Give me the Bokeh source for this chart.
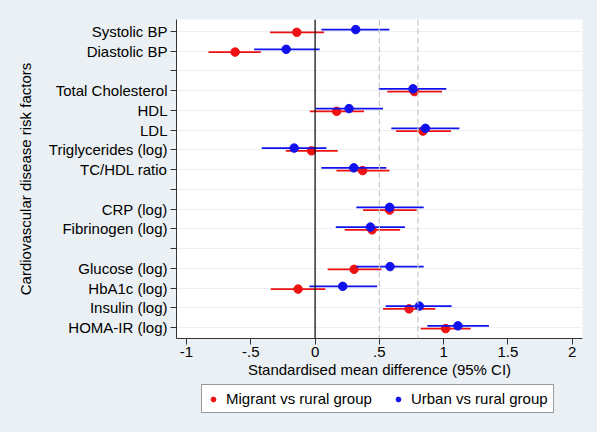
from bokeh.plotting import figure
from bokeh.layouts import column
from bokeh.models import FixedTicker, Span, Legend, LegendItem, ColumnDataSource
from bokeh.embed import file_html
from bokeh.resources import INLINE

labels = ["Systolic BP", "Diastolic BP", "", "Total Cholesterol", "HDL", "LDL",
          "Triglycerides (log)", "TC/HDL ratio", "", "CRP (log)", "Fibrinogen (log)", "",
          "Glucose (log)", "HbA1c (log)", "Insulin (log)", "HOMA-IR (log)"]

# Migrant vs rural group (None for blank rows)
mig_est = [-0.142, -0.622, None, 0.772, 0.168, 0.839, -0.028, 0.370, None, 0.580, 0.443, None, 0.303, -0.132, 0.731, 1.016]
mig_lo  = [-0.350, -0.829, None, 0.562, -0.041, 0.630, -0.228, 0.166, None, 0.373, 0.231, None, 0.098, -0.345, 0.528, 0.821]
mig_hi  = [0.070, -0.422, None, 0.987, 0.381, 1.057, 0.176, 0.578, None, 0.790, 0.661, None, 0.516, 0.080, 0.935, 1.210]

# Urban vs rural group
urb_est = [0.316, -0.225, None, 0.762, 0.264, 0.858, -0.163, 0.301, None, 0.580, 0.430, None, 0.583, 0.215, 0.811, 1.111]
urb_lo  = [0.049, -0.474, None, 0.495, 0.005, 0.593, -0.415, 0.049, None, 0.321, 0.161, None, 0.321, -0.044, 0.549, 0.873]
urb_hi  = [0.578, 0.036, None, 1.021, 0.528, 1.122, 0.088, 0.554, None, 0.845, 0.699, None, 0.845, 0.482, 1.062, 1.352]

series_names = ["Migrant vs rural group", "Urban vs rural group"]

x_ticks = [-1, -0.5, 0, 0.5, 1, 1.5, 2]
x_tick_labels = ["-1", "-.5", "0", ".5", "1", "1.5", "2"]

FONT = "Liberation Sans"
BG = "#EAF0F3"
FS = "15px"
RED = "#EE1111"
BLUE = "#1111EE"

p = figure(frame_width=406, frame_height=319, output_backend="svg", toolbar_location=None,
           x_range=(-1.078, 2.08), y_range=(16.55, 0.4),
           min_border_left=176, min_border_right=15, min_border_top=19, min_border_bottom=44)
p.background_fill_color = "white"
p.border_fill_color = BG
p.outline_line_color = None

# y axis
p.yaxis.ticker = FixedTicker(ticks=list(range(1, len(labels) + 1)))
p.yaxis.major_label_overrides = {i + 1: lab for i, lab in enumerate(labels)}
p.yaxis.axis_label = "Cardiovascular disease risk factors"
p.yaxis.axis_label_text_font = FONT
p.yaxis.axis_label_text_font_style = "normal"
p.yaxis.axis_label_text_font_size = FS
p.yaxis.axis_label_standoff = 12
p.yaxis.major_label_text_font = FONT
p.yaxis.major_label_text_font_size = FS
p.yaxis.major_tick_out = 6
p.yaxis.major_tick_in = 0
p.yaxis.minor_tick_line_color = None
p.yaxis.major_label_standoff = 3

# x axis
p.xaxis.ticker = FixedTicker(ticks=x_ticks)
p.xaxis.major_label_overrides = {t: l for t, l in zip(x_ticks, x_tick_labels)}
p.xaxis.axis_label = "Standardised mean difference (95% CI)"
p.xaxis.axis_label_text_font = FONT
p.xaxis.axis_label_text_font_style = "normal"
p.xaxis.axis_label_text_font_size = FS
p.xaxis.axis_label_standoff = 1
p.xaxis.major_label_text_font = FONT
p.xaxis.major_label_text_font_size = FS
p.xaxis.major_tick_out = 6
p.xaxis.major_tick_in = 0
p.xaxis.minor_tick_line_color = None
p.xaxis.major_label_standoff = 2

for ax in (p.xaxis, p.yaxis):
    ax.axis_line_color = "#333333"
    ax.major_tick_line_color = "#333333"
    ax.major_label_text_color = "black"
    ax.axis_label_text_color = "black"

p.xgrid.visible = False
p.ygrid.grid_line_color = BG
p.ygrid.grid_line_width = 1

# reference lines
p.add_layout(Span(location=0, dimension="height", line_color="black", line_width=1.2))
for v in (0.5, 0.8):
    p.add_layout(Span(location=v, dimension="height", line_color="#C8C8C8",
                      line_width=1.2, line_dash="6 3"))

def rows(est, lo, hi, off):
    ys, es, ls, hs = [], [], [], []
    for i, (e, l, h) in enumerate(zip(est, lo, hi)):
        if e is None:
            continue
        ys.append(i + 1 + off); es.append(e); ls.append(l); hs.append(h)
    return ColumnDataSource(dict(y=ys, est=es, lo=ls, hi=hs))

src_m = rows(mig_est, mig_lo, mig_hi, 0.05)
src_u = rows(urb_est, urb_lo, urb_hi, -0.09)

p.segment(x0="lo", x1="hi", y0="y", y1="y", source=src_m, line_color=RED, line_width=1.8)
p.scatter(x="est", y="y", source=src_m, size=8.5, fill_color=RED, line_color=RED)
p.segment(x0="lo", x1="hi", y0="y", y1="y", source=src_u, line_color=BLUE, line_width=1.8)
p.scatter(x="est", y="y", source=src_u, size=8.5, fill_color=BLUE, line_color=BLUE)

# legend strip below the chart (frame aligned with the chart's frame)
p2 = figure(width=597, height=50, output_backend="svg", toolbar_location=None,
            x_axis_type=None, y_axis_type=None, x_range=(0, 1), y_range=(0, 1),
            min_border=0)
p2.background_fill_color = BG
p2.border_fill_color = BG
p2.outline_line_color = None
p2.grid.visible = False
dm = p2.scatter(x=[-5], y=[-5], size=7, fill_color=RED, line_color=RED)
du = p2.scatter(x=[-5], y=[-5], size=7, fill_color=BLUE, line_color=BLUE)

legend = Legend(items=[LegendItem(label=series_names[0], renderers=[dm]),
                       LegendItem(label=series_names[1], renderers=[du])],
                orientation="horizontal", location=(25, 19))
legend.label_text_font = FONT
legend.label_text_font_size = FS
legend.label_text_color = "black"
legend.border_line_color = "#333333"
legend.border_line_width = 1
legend.background_fill_color = "white"
legend.background_fill_alpha = 1
legend.glyph_width = 12
legend.glyph_height = 12
legend.spacing = 20
legend.padding = 5
legend.margin = 0
legend.label_standoff = 7
p2.add_layout(legend, "center")

layout = column(p, p2, spacing=0)
layout.styles = {"background-color": BG}

open("out.html", "w").write(file_html(layout, INLINE))
